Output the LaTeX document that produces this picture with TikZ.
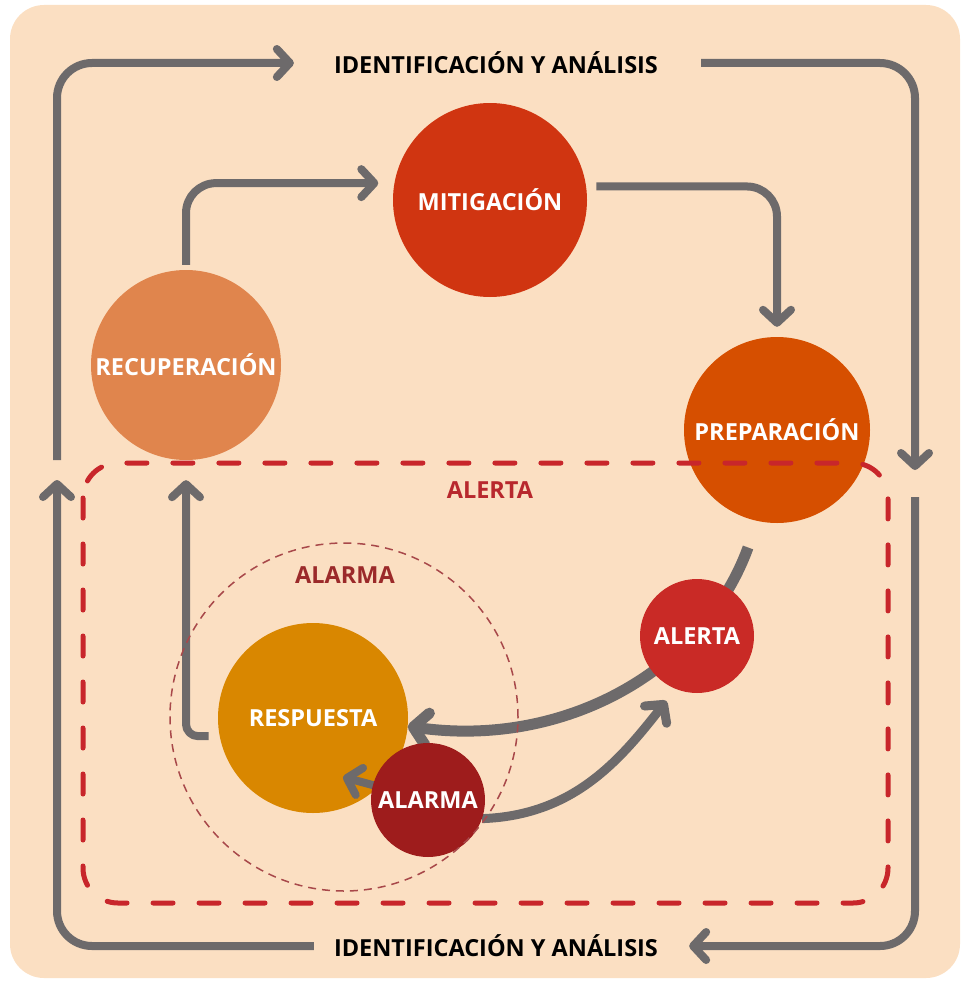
\documentclass[tikz,border=0pt]{standalone}
\usepackage{fontspec}
\setmainfont{Open Sans}
\usetikzlibrary{arrows.meta}

\definecolor{peach}{HTML}{FBDFC2}
\definecolor{arrowgray}{HTML}{6D6A6B}
\definecolor{cMitig}{HTML}{D03511}
\definecolor{cRecup}{HTML}{E0854D}
\definecolor{cPrep}{HTML}{D64F00}
\definecolor{cAlert}{HTML}{C92A26}
\definecolor{cResp}{HTML}{D98700}
\definecolor{cAlarm}{HTML}{9E1C1C}
\definecolor{zoneAlert}{HTML}{C8262B}
\definecolor{zoneAlarm}{HTML}{A8484A}
\definecolor{lblAlert}{HTML}{B8282D}
\definecolor{lblAlarm}{HTML}{9B2A2A}

\pgfdeclarelayer{bg}
\pgfdeclarelayer{links}
\pgfdeclarelayer{front}
\pgfsetlayers{bg,links,main,front}

\tikzset{
  phase/.style={circle, inner sep=0pt, text=white,
    font=\bfseries\fontsize{23.5}{28}\selectfont},
  cyclelabel/.style={inner sep=0pt, text=black,
    font=\bfseries\fontsize{23.5}{28}\selectfont},
  zonelabel/.style={inner sep=0pt,
    font=\bfseries\fontsize{23.5}{28}\selectfont},
  gline/.style={draw=arrowgray, line width=8pt, line cap=butt, line join=round},
  tip/.style={-{Straight Barb[length=13pt,width=28pt,round]}},
  tipbig/.style={-{Straight Barb[length=14pt,width=32pt,round]}},
}

\begin{document}
\begin{tikzpicture}[x=1pt,y=-1pt]
\useasboundingbox (0,0) rectangle (967,982);

\begin{pgfonlayer}{bg}
  \fill[peach, rounded corners=34pt] (10,5) rectangle (960,978);
  \node[phase, fill=cResp, minimum size=190pt] (resp) at (313,718) {RESPUESTA};
\end{pgfonlayer}

% phases of the cycle
\node[phase, fill=cMitig, minimum size=194pt] (mitig) at (490,200) {MITIGACIÓN};
\node[phase, fill=cRecup, minimum size=190pt] (recup) at (186,365) {RECUPERACIÓN};
\node[phase, fill=cPrep, minimum size=186pt] (prep) at (777,430) {PREPARACIÓN};
\node[phase, fill=cAlert, minimum size=114pt] (alert) at (697,636) {ALERTA};
\node[phase, fill=cAlarm, minimum size=114pt] (alarm) at (428,800) {ALARMA};

% outer loop labels
\node[cyclelabel] (idtop) at (496,63) {IDENTIFICACIÓN Y ANÁLISIS};
\node[cyclelabel] (idbot) at (496,946) {IDENTIFICACIÓN Y ANÁLISIS};

\coordinate (lgapTop) at (57,460);
\coordinate (lgapBot) at (57,480);
\coordinate (rgapTop) at (915,470);
\coordinate (rgapBot) at (915,497);
\coordinate (respTip) at (343,777);

\begin{pgfonlayer}{links}
  % outer loop
  \draw[gline, tip, rounded corners=35pt, shorten >=40pt] (lgapTop) |- (idtop.west);
  \draw[gline, tip, rounded corners=35pt, shorten <=43pt] (idtop.east) -| (rgapTop);
  \draw[gline, tip, rounded corners=35pt, shorten >=31pt] (rgapBot) |- (idbot.east);
  \draw[gline, tip, rounded corners=35pt, shorten <=20pt] (idbot.west) -| (lgapBot);
  % inner cycle
  \draw[gline, tip, rounded corners=30pt, shorten <=5pt, shorten >=16pt] (recup.north) |- (mitig.170);
  \draw[gline, tip, rounded corners=30pt, shorten <=10pt, shorten >=10pt] (mitig.8) -| (prep.north);
  \draw[gline, tip, rounded corners=12pt, shorten <=11pt, shorten >=20pt] (resp.191) -| (recup.south);
  % warning stages
  \draw[gline, line width=11pt, tipbig, shorten <=28pt] (prep.258) to[out=250,in=352] (resp.-5);
  \draw[gline, line width=9pt, tip, shorten >=15pt] (alarm.-19) to[out=2,in=232] (alert.248);
  \draw[gline, tip] (alarm.center) -- (respTip);
\end{pgfonlayer}

\begin{pgfonlayer}{front}
  \draw[zoneAlert, line width=5pt, line cap=round, dash pattern=on 20pt off 26pt, rounded corners=35pt]
    (83,463) rectangle (888,903);
  \draw[zoneAlarm, line width=1.5pt, dash pattern=on 8pt off 6pt] (344,717) circle (174pt);
  \node[zonelabel, text=lblAlert] (zoneA) at (490,490) {ALERTA};
  \node[zonelabel, text=lblAlarm] (zoneB) at (345,575) {ALARMA};
\end{pgfonlayer}
\end{tikzpicture}
\end{document}
